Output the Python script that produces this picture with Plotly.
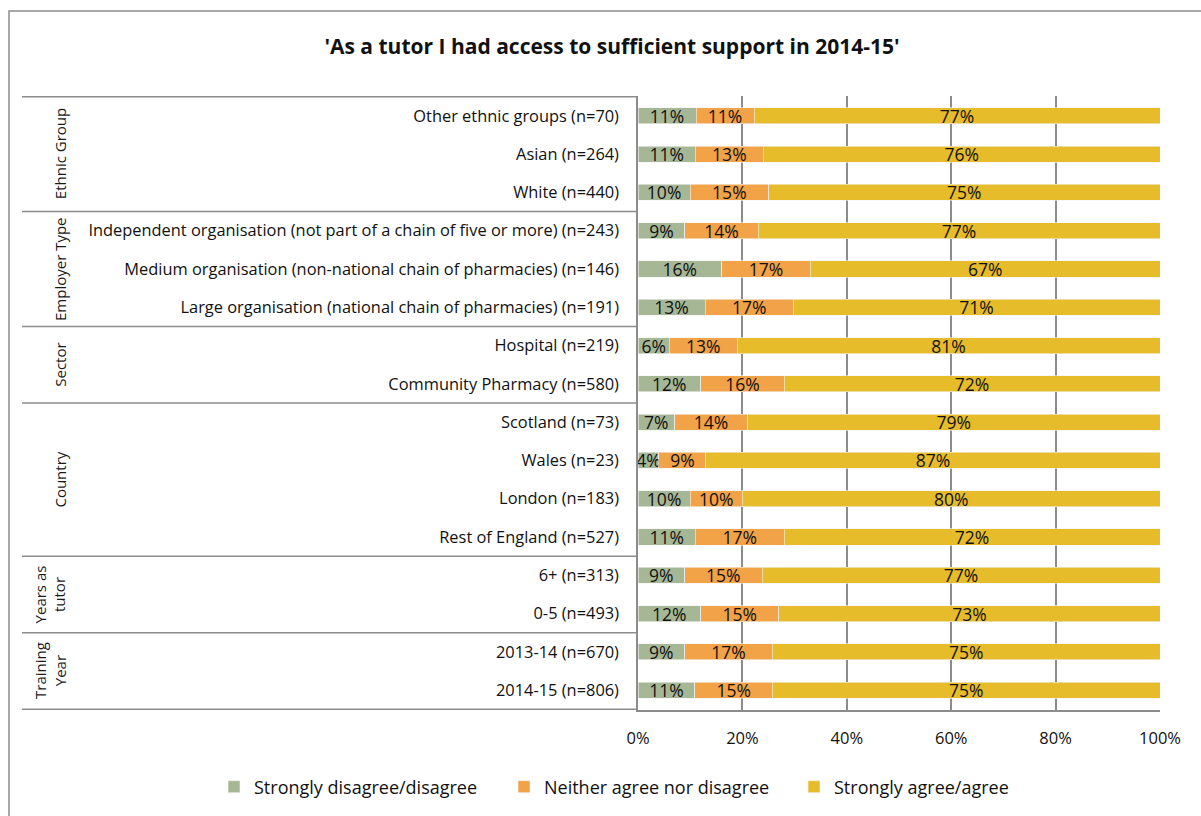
import plotly.graph_objects as go

categories = [
    "Other ethnic groups (n=70)",
    "Asian (n=264)",
    "White (n=440)",
    "Independent organisation (not part of a chain of five or more) (n=243)",
    "Medium organisation (non-national chain of pharmacies) (n=146)",
    "Large organisation (national chain of pharmacies) (n=191)",
    "Hospital (n=219)",
    "Community Pharmacy (n=580)",
    "Scotland (n=73)",
    "Wales (n=23)",
    "London (n=183)",
    "Rest of England (n=527)",
    "6+ (n=313)",
    "0-5 (n=493)",
    "2013-14 (n=670)",
    "2014-15 (n=806)",
]
disagree = [11, 11, 10, 9, 16, 13, 6, 12, 7, 4, 10, 11, 9, 12, 9, 11]
neither = [11, 13, 15, 14, 17, 17, 13, 16, 14, 9, 10, 17, 15, 15, 17, 15]
agree = [77, 76, 75, 77, 67, 71, 81, 72, 79, 87, 80, 72, 77, 73, 75, 75]

groups = ["Ethnic Group", "Employer Type", "Sector", "Country", "Years as<br>tutor", "Training<br>Year"]
group_sizes = [3, 3, 2, 4, 2, 2]

series_names = ["Strongly disagree/disagree", "Neither agree nor disagree", "Strongly agree/agree"]
colors = ["#A6B796", "#F2A247", "#E7BC2A"]
tick_vals = [0, 20, 40, 60, 80, 100]
tick_text = ["0%", "20%", "40%", "60%", "80%", "100%"]

FONT = "Open Sans"

W, H = 1201, 816
L, R, T, B = 638, 1160, 96, 710


def px_x(px):
    return (px - L) / (R - L)


def px_y(py):
    return (B - py) / (B - T)


fig = go.Figure()
for name, vals, col in zip(series_names, [disagree, neither, agree], colors):
    fig.add_trace(go.Bar(
        y=categories, x=vals, name=name, orientation="h",
        marker=dict(color=col, line=dict(color="#f4f4f4", width=0.6)),
        text=[f"{v}%" for v in vals], textposition="inside",
        insidetextanchor="middle", textangle=0, constraintext="none",
        textfont=dict(family=FONT, size=17.5, color="#111111"),
        hoverinfo="skip",
    ))

shapes = []
bounds = [-0.5]
acc = -0.5
for s in group_sizes:
    acc += s
    bounds.append(acc)
for bv in bounds:
    shapes.append(dict(type="line", xref="paper", yref="y", x0=px_x(22), x1=0,
                       y0=bv, y1=bv, line=dict(color="#8c8c8c", width=1.5)))
shapes.append(dict(type="rect", xref="paper", yref="paper", x0=px_x(9), x1=px_x(1230),
                   y0=px_y(840), y1=px_y(11), line=dict(color="#8c8c8c", width=1.5),
                   fillcolor="rgba(0,0,0,0)", layer="below"))

annotations = []
start = 0
for g, s in zip(groups, group_sizes):
    center = start + (s - 1) / 2
    annotations.append(dict(text=g, xref="paper", yref="y", x=px_x(72), y=center,
                            xanchor="right", yanchor="middle", textangle=-90,
                            showarrow=False, align="center",
                            font=dict(family=FONT, size=15, color="#1a1a1a")))
    start += s

fig.update_layout(
    width=W, height=H,
    margin=dict(l=L, r=W - R, t=T, b=H - B, autoexpand=False),
    barmode="stack", barnorm="percent", bargap=0.58,
    plot_bgcolor="white", paper_bgcolor="white",
    title=dict(text="<b>'As a tutor I had access to sufficient support in 2014-15'</b>",
               x=612 / W, xanchor="center", y=1 - 47 / H, yanchor="middle", yref="container",
               font=dict(family=FONT, size=21, color="#111111")),
    xaxis=dict(range=[0, 100], tickvals=tick_vals, ticktext=tick_text,
               showgrid=True, gridcolor="#8c8c8c", gridwidth=1.5,
               showline=True, linecolor="#8c8c8c", linewidth=1.5,
               zeroline=False, ticks="", ticklabelstandoff=12,
               tickfont=dict(family=FONT, size=16.5, color="#111111"), fixedrange=True),
    yaxis=dict(categoryorder="array", categoryarray=categories, autorange="reversed",
               showline=True, linecolor="#8c8c8c", linewidth=1.5, showgrid=False,
               ticks="", ticklabelstandoff=14,
               tickfont=dict(family=FONT, size=16.4, color="#111111"), fixedrange=True),
    legend=dict(orientation="h", xref="paper", yref="paper",
                x=px_x(214), y=px_y(787), xanchor="left", yanchor="middle",
                font=dict(family=FONT, size=18, color="#111111"),
                traceorder="normal", entrywidth=245, entrywidthmode="pixels",
                itemwidth=30),
    shapes=shapes, annotations=annotations,
    showlegend=True,
)

fig.write_html("out.html")
